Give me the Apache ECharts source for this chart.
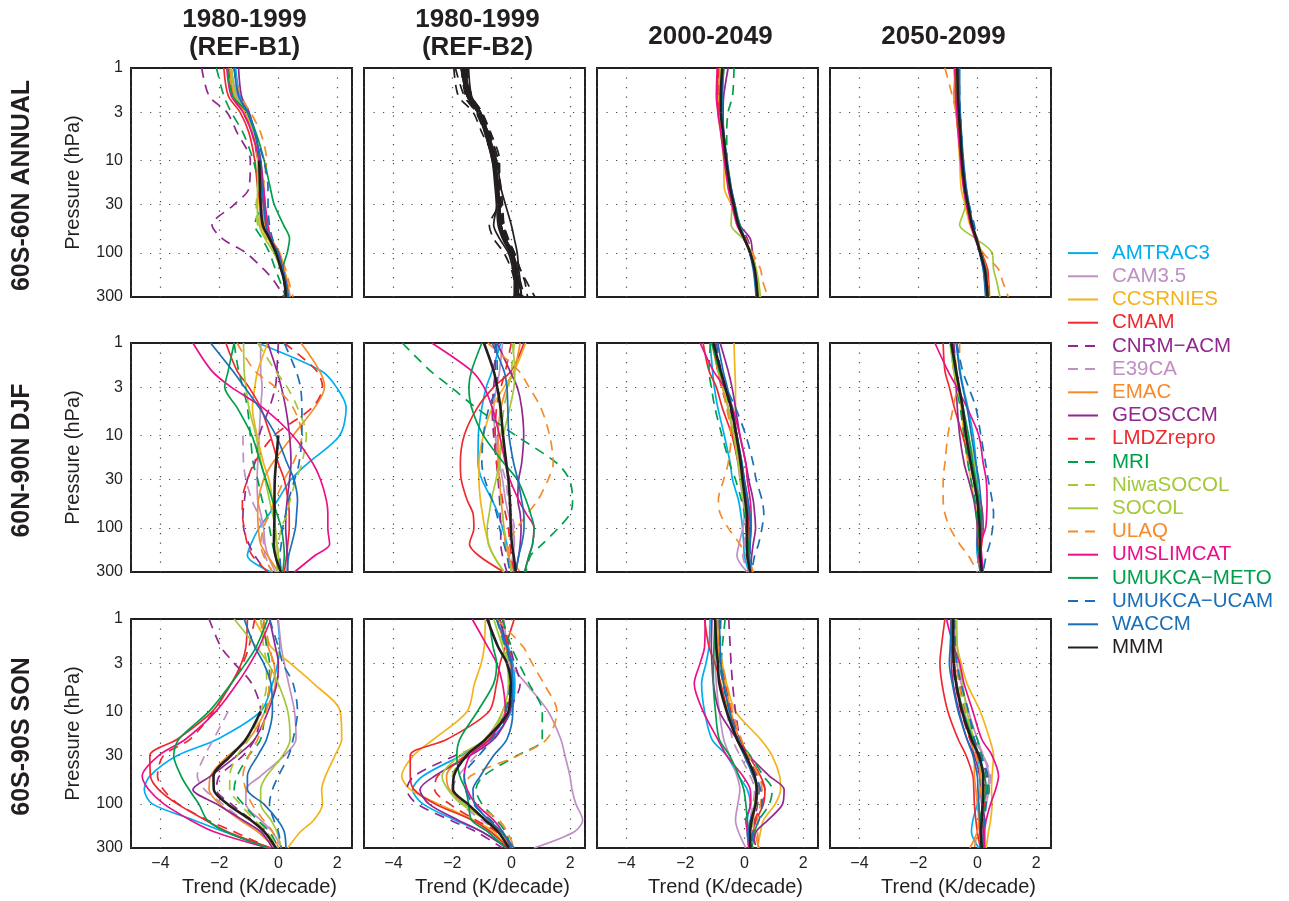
<!DOCTYPE html>
<html><head><meta charset="utf-8">
<script src="https://cdn.jsdelivr.net/npm/echarts@6/dist/echarts.min.js"></script>
<style>html,body{margin:0;padding:0;background:#fff}#c{width:1289px;height:901px}</style>
</head><body><div id="c"></div>
<script>
const n = null;
const levels = [1,2,3,5,10,20,30,50,70,100,150,200,300];
const models = ['AMTRAC3','CAM3.5','CCSRNIES','CMAM','CNRM\u2212ACM','E39CA','EMAC','GEOSCCM','LMDZrepro','MRI','NiwaSOCOL','SOCOL','ULAQ','UMSLIMCAT','UMUKCA\u2212METO','UMUKCA\u2212UCAM','WACCM','MMM'];
const colors = ['#00aeef','#c08fc4','#f2b31b','#ee2a2f','#92278f','#c08fc4','#f68b2c','#92278f','#ee2a2f','#00a04b','#a3c93a','#a3c93a','#f68b2c','#ec0f8c','#00a04b','#1b6fb8','#1b6fb8','#231f20'];
const dashed = [false,false,false,false,true,true,false,false,true,true,true,false,true,false,false,true,false,false];
const colTitles = [['1980-1999','(REF-B1)'],['1980-1999','(REF-B2)'],['2000-2049'],['2050-2099']];
const rowTitles = ['60S-60N ANNUAL','60N-90N DJF','60S-90S SON'];
const yTicks = [1,3,10,30,100,300];
const gridY = [3,10,30,100];

// Rows: model order as in `models`; columns: pressure levels
const ANN_B1 = [
[-1.45,-1.3,-1.0,-0.8,-0.6,-0.55,-0.5,-0.45,-0.3,-0.05,0.1,0.2,0.3],
[-1.6,-1.4,-1.1,-0.85,-0.65,-0.6,-0.55,-0.5,-0.3,-0.05,0.12,0.2,0.28],
[-1.7,-1.5,-1.15,-0.9,-0.7,-0.7,-0.65,-0.6,-0.35,-0.1,0.1,0.2,0.3],
[-1.85,-1.7,-1.3,-1.0,-0.8,-0.7,-0.6,-0.5,-0.3,-0.05,0.1,0.2,0.3],
[-2.6,-2.35,-1.75,-1.4,-0.95,-1.0,-1.5,-2.25,-1.9,-1.1,-0.5,-0.15,0.2],
[n,n,n,n,-0.65,-0.6,-0.55,-0.45,-0.25,-0.02,0.12,0.2,0.28],
[-1.65,-1.5,-1.15,-0.85,-0.6,-0.55,-0.5,-0.45,-0.25,0.05,0.2,0.3,0.4],
[-1.35,-1.25,-1.0,-0.8,-0.6,-0.5,-0.45,-0.4,-0.3,0.0,0.15,0.2,0.25],
[-1.7,-1.55,-1.2,-0.9,-0.7,-0.6,-0.5,-0.4,-0.3,-0.05,0.1,0.2,0.25],
[-2.1,-1.85,-1.6,-1.2,-0.85,-0.65,-0.6,-0.8,-0.55,-0.3,-0.1,0.05,0.25],
[-1.6,-1.45,-1.1,-0.85,-0.7,-0.7,-0.75,-0.7,-0.4,-0.1,0.1,0.2,0.3],
[-1.6,-1.45,-1.1,-0.85,-0.7,-0.7,-0.72,-0.65,-0.45,-0.15,0.08,0.2,0.3],
[-1.5,-1.3,-0.95,-0.6,-0.4,-0.5,-0.45,-0.35,-0.25,0.0,0.25,0.35,0.5],
[-1.75,-1.6,-1.2,-0.9,-0.65,-0.5,-0.45,-0.35,-0.25,0.0,0.15,0.25,0.32],
[-1.73,-1.55,-1.05,-0.76,-0.48,-0.27,-0.14,0.18,0.38,0.3,0.15,0.18,0.3],
[-1.5,-1.35,-1.05,-0.8,-0.5,-0.35,-0.35,-0.3,-0.2,0.0,0.15,0.25,0.35],
[-1.5,-1.35,-1.05,-0.8,-0.62,-0.55,-0.5,-0.42,-0.28,-0.02,0.15,0.25,0.35],
[n,n,n,n,-0.65,-0.62,-0.6,-0.53,-0.3,-0.08,0.09,0.2,0.26]
];
const ANN_B2 = [
[-1.6,-1.45,-1.1,-0.85,-0.6,-0.5,-0.45,-0.4,-0.25,0.0,0.1,0.15,0.1],
[-1.55,-1.4,-1.05,-0.8,-0.55,-0.45,-0.4,-0.35,-0.2,0.05,0.15,0.2,0.2],
[-1.7,-1.5,-1.15,-0.9,-0.65,-0.55,-0.5,-0.45,-0.3,-0.05,0.1,0.15,0.15],
[-1.65,-1.5,-1.15,-0.9,-0.65,-0.5,-0.5,-0.6,-0.4,-0.1,0.05,0.1,0.1],
[-1.95,-1.8,-1.3,-1.0,-0.55,-0.45,-0.45,-0.75,-0.6,-0.25,0.0,0.1,0.15],
[n,n,n,n,-0.55,-0.45,-0.4,-0.35,-0.2,0.05,0.2,0.25,0.3],
[-1.6,-1.45,-1.1,-0.85,-0.6,-0.45,-0.4,-0.35,-0.2,0.05,0.15,0.2,0.25],
[-1.45,-1.35,-1.05,-0.8,-0.55,-0.45,-0.4,-0.35,-0.25,0.0,0.1,0.15,0.2],
[-1.7,-1.55,-1.2,-0.9,-0.5,-0.35,-0.3,-0.25,-0.15,0.1,0.3,0.45,0.55],
[-1.9,-1.6,-1.2,-0.85,-0.55,-0.45,-0.4,-0.35,-0.25,0.0,0.15,0.2,0.3],
[-1.6,-1.45,-1.05,-0.75,-0.45,-0.4,-0.35,-0.3,-0.2,0.05,0.15,0.2,0.4],
[-1.6,-1.45,-1.1,-0.85,-0.6,-0.5,-0.45,-0.4,-0.25,0.0,0.1,0.15,0.25],
[-1.55,-1.35,-1.0,-0.7,-0.4,-0.4,-0.35,-0.25,-0.1,0.1,0.3,0.5,0.8],
[-1.65,-1.5,-1.15,-0.85,-0.6,-0.45,-0.4,-0.35,-0.25,0.05,0.2,0.25,0.35],
[-1.7,-1.5,-1.1,-0.8,-0.5,-0.35,-0.2,0.0,0.1,0.2,0.25,0.3,0.35],
[-1.5,-1.35,-1.0,-0.75,-0.45,-0.4,-0.35,-0.3,-0.15,0.1,0.2,0.3,0.45],
[-1.55,-1.4,-1.05,-0.8,-0.55,-0.45,-0.4,-0.35,-0.2,0.05,0.15,0.2,0.25],
[n,n,n,n,n,n,n,n,n,n,n,n,n]
];
const ANN_2000 = [
[-0.75,-0.8,-0.8,-0.72,-0.62,-0.48,-0.36,-0.2,0.0,0.2,0.35,0.4,0.45],
[-0.8,-0.82,-0.8,-0.72,-0.62,-0.5,-0.38,-0.22,-0.02,0.18,0.33,0.38,0.42],
[-0.85,-0.88,-0.9,-0.8,-0.7,-0.68,-0.45,-0.2,0.0,0.25,0.4,0.45,0.5],
[-0.9,-0.92,-0.88,-0.78,-0.66,-0.52,-0.4,-0.22,-0.02,0.2,0.35,0.4,0.45],
[-0.7,-0.75,-0.75,-0.7,-0.6,-0.48,-0.35,-0.15,0.1,0.25,0.38,0.42,0.45],
[n,n,n,n,-0.6,-0.48,-0.36,-0.2,0.0,0.2,0.35,0.4,0.45],
[-0.85,-0.85,-0.85,-0.75,-0.65,-0.52,-0.4,-0.22,0.0,0.22,0.38,0.42,0.47],
[-0.55,-0.7,-0.72,-0.7,-0.6,-0.48,-0.36,-0.15,0.2,0.28,0.38,0.42,0.45],
[-0.88,-0.9,-0.85,-0.75,-0.65,-0.52,-0.38,-0.2,0.0,0.2,0.35,0.4,0.42],
[-0.35,-0.4,-0.55,-0.6,-0.58,-0.48,-0.35,-0.2,0.0,0.2,0.35,0.4,0.45],
[-0.78,-0.8,-0.8,-0.72,-0.62,-0.5,-0.38,-0.22,0.0,0.22,0.38,0.45,0.5],
[-0.8,-0.82,-0.82,-0.75,-0.65,-0.52,-0.42,-0.45,-0.05,0.25,0.4,0.48,0.55],
[-0.75,-0.78,-0.78,-0.7,-0.6,-0.48,-0.35,-0.18,0.05,0.28,0.55,0.62,0.8],
[-0.92,-0.95,-0.9,-0.8,-0.68,-0.55,-0.42,-0.25,-0.02,0.2,0.33,0.38,0.4],
[-0.7,-0.75,-0.78,-0.72,-0.6,-0.45,-0.32,-0.15,0.02,0.2,0.35,0.4,0.42],
[-0.72,-0.78,-0.78,-0.7,-0.6,-0.45,-0.34,-0.18,0.02,0.2,0.33,0.38,0.42],
[-0.72,-0.76,-0.76,-0.7,-0.58,-0.44,-0.32,-0.18,0.02,0.18,0.3,0.35,0.4],
[-0.75,-0.8,-0.8,-0.72,-0.62,-0.48,-0.36,-0.2,0.0,0.2,0.35,0.4,0.45]
];
const ANN_2050 = [
[-0.65,-0.63,-0.6,-0.55,-0.5,-0.4,-0.3,-0.18,-0.05,0.08,0.2,0.25,0.3],
[-0.7,-0.68,-0.65,-0.6,-0.52,-0.42,-0.32,-0.2,-0.05,0.1,0.25,0.3,0.35],
[-0.72,-0.72,-0.7,-0.66,-0.6,-0.55,-0.42,-0.25,-0.05,0.12,0.3,0.38,0.42],
[-0.78,-0.75,-0.72,-0.65,-0.55,-0.45,-0.35,-0.22,-0.05,0.15,0.35,0.38,0.4],
[-0.68,-0.66,-0.62,-0.57,-0.5,-0.4,-0.3,-0.15,0.0,0.12,0.25,0.3,0.35],
[n,n,n,n,-0.5,-0.4,-0.3,-0.17,-0.03,0.12,0.27,0.32,0.37],
[-0.72,-0.8,-0.72,-0.62,-0.55,-0.44,-0.34,-0.2,-0.03,0.15,0.3,0.35,0.4],
[-0.65,-0.63,-0.6,-0.56,-0.5,-0.4,-0.3,-0.18,-0.04,0.1,0.25,0.28,0.32],
[-0.75,-0.72,-0.68,-0.62,-0.55,-0.45,-0.35,-0.2,-0.03,0.15,0.3,0.35,0.4],
[-0.68,-0.66,-0.63,-0.58,-0.5,-0.4,-0.32,-0.18,-0.05,0.1,0.25,0.3,0.35],
[-0.7,-0.68,-0.65,-0.6,-0.52,-0.42,-0.32,-0.18,-0.04,0.12,0.27,0.32,0.36],
[-0.7,-0.68,-0.65,-0.6,-0.55,-0.45,-0.4,-0.6,-0.05,0.5,0.55,0.65,0.77],
[-1.1,-0.85,-0.72,-0.65,-0.55,-0.45,-0.35,-0.18,0.0,0.2,0.72,0.85,1.05],
[-0.75,-0.73,-0.7,-0.64,-0.57,-0.47,-0.37,-0.22,-0.08,0.1,0.25,0.3,0.35],
[-0.68,-0.66,-0.63,-0.58,-0.5,-0.4,-0.3,-0.17,-0.03,0.12,0.28,0.32,0.36],
[-0.62,-0.6,-0.58,-0.54,-0.48,-0.38,-0.28,-0.1,-0.02,0.1,0.22,0.26,0.3],
[-0.6,-0.6,-0.58,-0.54,-0.47,-0.37,-0.28,-0.15,-0.02,0.08,0.2,0.24,0.28],
[-0.68,-0.66,-0.63,-0.58,-0.52,-0.42,-0.32,-0.18,-0.04,0.1,0.25,0.3,0.35]
];
const DJF_B1 = [
[-0.7,1.45,1.97,2.3,2.08,1.0,0.43,-0.02,-0.3,-0.65,-0.93,-1.05,-0.25],
[-0.6,-0.6,-0.55,-0.6,-0.65,-0.7,-0.72,-0.7,-0.6,-0.5,-0.45,-0.35,-0.1],
[-0.36,-0.7,-0.8,-0.88,-0.72,-0.5,-0.32,-0.2,-0.15,-0.12,-0.05,0.0,0.1],
[-1.78,-1.4,-1.0,-0.6,-0.27,0.0,0.2,0.33,0.37,0.37,0.32,0.28,0.2],
[0.0,-0.05,-0.1,-0.3,-0.65,-0.8,-1.05,-1.15,-1.2,-1.18,-1.0,-0.8,-0.4],
[n,n,n,n,-1.2,-1.18,-1.1,-0.9,-0.7,-0.55,-0.5,-0.45,-0.2],
[0.77,1.4,1.57,1.23,0.5,-0.2,-0.5,-0.68,-0.7,-0.68,-0.6,-0.36,0.0],
[-0.36,-0.05,0.1,0.25,0.38,0.43,0.38,0.3,0.26,0.25,0.28,0.3,0.32],
[0.2,1.3,1.5,1.15,-0.14,-0.82,-1.05,-1.22,-1.22,-1.16,-1.05,-0.88,-0.36],
[-1.5,-1.35,-1.2,-1.05,-0.95,-0.85,-0.7,-0.55,-0.4,-0.3,-0.2,-0.1,0.0],
[-0.7,-0.1,0.3,0.65,0.95,0.8,0.6,0.4,0.3,0.1,0.0,-0.05,-0.05],
[-1.18,-1.16,-1.1,-1.0,-0.76,-0.58,-0.45,-0.3,-0.2,-0.1,-0.05,0.0,0.05],
[-1.4,-0.8,-0.1,0.5,0.8,0.5,0.2,-0.1,-0.3,-0.5,-0.6,-0.5,-0.2],
[-2.9,-2.26,-1.6,-0.53,0.49,1.17,1.43,1.63,1.68,1.68,1.74,1.23,0.55],
[-1.5,-1.7,-1.82,-1.4,-0.9,-0.6,-0.42,-0.2,-0.05,0.1,0.18,0.2,0.15],
[0.2,0.6,0.75,0.8,0.8,0.7,0.55,0.35,0.25,0.15,0.1,0.05,0.1],
[-2.3,-1.55,-1.15,-0.65,-0.08,0.3,0.53,0.65,0.62,0.58,0.45,0.35,0.3],
[n,n,n,n,0.0,-0.08,-0.12,-0.13,-0.13,-0.14,-0.15,-0.1,0.09]
];
const DJF_B2 = [
[-0.36,-0.65,-0.85,-1.0,-1.12,-1.13,-1.0,-0.65,-0.45,-0.3,-0.15,-0.1,0.0],
[-0.3,-0.4,-0.5,-0.6,-0.55,-0.4,-0.3,-0.2,-0.1,0.05,0.1,0.05,0.0],
[0.49,0.1,-0.25,-0.65,-0.95,-1.1,-1.1,-1.05,-0.98,-0.9,-0.76,-0.6,-0.25],
[0.43,0.0,-0.6,-1.15,-1.6,-1.73,-1.7,-1.5,-1.3,-1.27,-1.42,-1.1,-0.25],
[-0.55,-0.55,-0.6,-0.65,-0.6,-0.5,-0.45,-0.4,-0.38,-0.36,-0.36,-0.3,-0.15],
[n,n,n,n,-0.5,-0.35,-0.2,-0.1,0.0,0.1,0.1,0.05,0.0],
[0.3,0.1,-0.15,-0.35,-0.45,-0.45,-0.4,-0.35,-0.3,-0.25,-0.2,-0.1,0.1],
[-0.48,-0.05,0.2,0.35,0.42,0.35,0.25,0.22,0.3,0.33,0.3,0.25,0.15],
[0.0,-0.2,-0.35,-0.5,-0.55,-0.5,-0.4,-0.3,-0.2,-0.1,-0.05,0.0,0.1],
[-3.7,-2.75,-2.05,-1.2,0.15,1.55,1.97,2.08,2.0,1.6,1.05,0.65,0.5],
[0.1,0.0,-0.1,-0.25,-0.35,-0.4,-0.4,-0.35,-0.3,-0.25,-0.15,-0.1,0.0],
[0.03,0.12,0.09,-0.05,-0.27,-0.42,-0.52,-0.68,-0.75,-0.82,-0.78,-0.6,-0.25],
[-0.8,0.25,0.6,1.0,1.3,1.42,1.25,0.9,0.55,0.2,-0.1,-0.05,0.3],
[-2.7,-1.35,-0.93,-0.65,-0.4,-0.2,-0.05,0.25,0.5,0.77,0.72,0.6,0.45],
[-1.0,-1.35,-1.44,-1.35,-0.95,-0.25,0.2,0.5,0.65,0.77,0.72,0.6,0.45],
[-0.5,-0.48,-0.5,-0.76,-0.95,-1.0,-0.9,-0.65,-0.5,-0.4,-0.25,-0.15,-0.05],
[-0.65,-0.25,-0.15,-0.12,-0.08,0.08,0.22,0.35,0.42,0.43,0.35,0.25,0.15],
[-0.93,-0.6,-0.48,-0.37,-0.28,-0.17,-0.1,-0.05,-0.03,-0.02,0.02,0.08,0.15]
];
const DJF_2000 = [
[-1.16,-1.08,-1.02,-0.9,-0.68,-0.48,-0.4,-0.2,-0.12,-0.06,-0.02,0.0,0.15],
[-1.0,-0.85,-0.72,-0.55,-0.38,-0.22,-0.15,-0.05,0.0,-0.05,-0.18,-0.25,0.1],
[-0.35,-0.32,-0.3,-0.3,-0.3,-0.2,-0.12,-0.02,0.05,0.08,0.05,0.1,0.2],
[-1.4,-1.2,-0.95,-0.75,-0.42,-0.2,-0.05,0.08,0.12,0.15,0.15,0.15,0.2],
[-0.95,-0.8,-0.68,-0.5,-0.3,-0.12,-0.05,0.05,0.12,0.18,0.18,0.2,0.25],
[n,n,n,n,-0.35,-0.2,-0.1,0.0,0.05,0.05,0.0,-0.05,0.15],
[-1.1,-0.9,-0.75,-0.55,-0.35,-0.18,-0.1,0.0,0.05,0.1,0.12,0.15,0.3],
[-0.82,-0.55,-0.42,-0.3,-0.15,0.05,0.15,0.3,0.35,0.38,0.3,0.25,0.2],
[-1.05,-0.9,-0.78,-0.58,-0.38,-0.18,-0.08,0.05,0.1,0.12,0.1,0.12,0.2],
[-1.15,-1.2,-1.12,-1.0,-0.76,-0.5,-0.3,-0.1,0.0,0.05,0.1,0.15,0.2],
[-1.0,-0.85,-0.7,-0.55,-0.35,-0.2,-0.12,-0.02,0.05,0.08,0.1,0.12,0.2],
[-1.02,-0.88,-0.72,-0.55,-0.36,-0.2,-0.12,0.0,0.05,0.1,0.12,0.15,0.25],
[-1.05,-0.9,-0.75,-0.6,-0.45,-0.55,-0.7,-0.88,-0.82,-0.55,-0.15,0.05,0.3],
[-1.5,-1.05,-0.68,-0.4,-0.15,0.05,0.1,0.2,0.23,0.23,0.18,0.15,0.2],
[-1.1,-0.85,-0.65,-0.45,-0.25,-0.08,0.0,0.12,0.18,0.2,0.15,0.12,0.2],
[-1.0,-0.8,-0.62,-0.3,0.05,0.3,0.4,0.6,0.66,0.6,0.48,0.35,0.25],
[-0.9,-0.72,-0.58,-0.42,-0.25,-0.08,0.0,0.12,0.18,0.22,0.2,0.18,0.22],
[-1.05,-0.8,-0.65,-0.45,-0.27,-0.12,-0.06,0.03,0.08,0.09,0.09,0.1,0.2]
];
const DJF_2050 = [
[-0.7,-0.58,-0.48,-0.32,-0.14,-0.04,0.0,0.02,0.02,0.0,-0.02,0.0,0.1],
[-0.85,-0.72,-0.62,-0.5,-0.35,-0.2,-0.1,0.0,0.03,0.05,0.05,0.05,0.1],
[-0.8,-0.7,-0.65,-0.55,-0.45,-0.32,-0.22,-0.1,-0.03,0.0,0.02,0.05,0.15],
[-1.16,-1.1,-0.95,-0.78,-0.5,-0.25,-0.1,0.1,0.18,0.2,0.15,0.1,0.15],
[-0.8,-0.72,-0.62,-0.5,-0.35,-0.2,-0.12,0.0,0.05,0.1,0.1,0.08,0.12],
[n,n,n,n,-0.4,-0.25,-0.15,-0.02,0.05,0.08,0.05,0.05,0.15],
[-0.85,-0.75,-0.65,-0.52,-0.38,-0.22,-0.12,0.0,0.05,0.08,0.05,0.05,0.1],
[-0.82,-0.78,-0.72,-0.68,-0.6,-0.45,-0.3,-0.12,-0.05,0.0,0.0,0.05,0.1],
[-0.9,-0.8,-0.7,-0.55,-0.38,-0.2,-0.1,0.05,0.1,0.12,0.1,0.1,0.15],
[-0.85,-0.78,-0.7,-0.58,-0.45,-0.32,-0.22,-0.08,-0.02,0.02,0.05,0.08,0.12],
[-0.88,-0.75,-0.65,-0.52,-0.35,-0.2,-0.1,0.0,0.05,0.08,0.08,0.08,0.15],
[-0.93,-0.8,-0.68,-0.52,-0.3,-0.1,-0.05,0.05,0.1,0.12,0.1,0.1,0.2],
[-0.6,-0.62,-0.68,-0.82,-1.0,-1.1,-1.16,-1.16,-1.1,-0.93,-0.6,-0.3,0.0],
[-1.44,-1.0,-0.7,-0.35,0.05,0.2,0.3,0.33,0.32,0.28,0.12,0.15,0.2],
[-0.9,-0.75,-0.62,-0.48,-0.3,-0.15,-0.06,0.05,0.1,0.12,0.1,0.1,0.15],
[-0.7,-0.5,-0.3,-0.05,0.12,0.28,0.37,0.5,0.55,0.52,0.42,0.3,0.2],
[-0.72,-0.6,-0.5,-0.35,-0.2,-0.05,0.05,0.12,0.15,0.15,0.1,0.1,0.15],
[-0.88,-0.72,-0.62,-0.5,-0.38,-0.22,-0.12,0.0,0.04,0.08,0.09,0.1,0.15]
];
const SON_B1 = [
[-0.02,0.05,-0.02,-0.2,-0.6,-2.07,-3.43,-4.36,-4.55,-4.28,-2.86,-1.84,-0.25],
[0.0,0.1,0.2,0.35,0.55,0.6,0.2,-0.6,-1.1,-1.1,-0.6,-0.2,0.1],
[-0.82,-0.25,0.4,1.2,2.1,2.15,1.92,1.6,1.47,1.5,1.2,0.75,0.32],
[-1.05,-1.1,-1.25,-1.6,-2.24,-3.43,-4.36,-4.34,-4.06,-3.43,-2.47,-1.73,-0.25],
[-2.35,-1.95,-1.5,-0.9,-0.6,-0.8,-1.2,-2.0,-2.1,-1.6,-0.9,-0.4,-0.1],
[n,n,n,n,-1.7,-2.2,-2.5,-2.75,-2.5,-1.9,-1.2,-0.6,-0.1],
[-0.6,-0.35,-0.15,-0.1,-0.45,-1.0,-1.7,-2.3,-2.35,-2.0,-1.3,-0.7,-0.1],
[-0.3,-0.1,0.0,-0.05,-0.35,-0.8,-1.4,-2.3,-2.9,-2.1,-1.2,-0.6,-0.2],
[-0.8,-1.0,-1.2,-1.6,-2.2,-3.0,-3.9,-4.1,-3.9,-3.4,-2.4,-1.5,-0.3],
[-0.5,-0.4,-0.3,-0.3,-0.45,-0.6,-1.0,-1.4,-1.5,-1.2,-0.7,-0.3,0.0],
[-0.6,-0.5,-0.4,-0.4,-0.6,-1.0,-1.4,-1.65,-1.65,-1.3,-0.8,-0.4,0.0],
[-1.5,-0.75,-0.35,0.0,0.32,0.4,0.15,-0.4,-0.6,-0.6,-0.25,-0.05,0.1],
[-0.5,-0.3,-0.2,-0.3,-0.4,-0.7,-1.0,-1.2,-1.1,-0.9,-0.5,-0.2,0.0],
[-0.25,-0.65,-0.95,-1.4,-2.12,-3.15,-4.06,-4.62,-4.4,-3.89,-2.98,-2.18,-0.35],
[-0.36,-0.75,-1.1,-1.6,-2.35,-3.38,-3.55,-3.3,-3.03,-2.7,-2.41,-1.78,-0.35],
[-0.3,0.0,0.15,0.5,0.65,0.5,0.35,0.0,-0.2,-0.3,-0.15,0.0,0.1],
[-1.16,-0.8,-0.5,-0.25,-0.2,-0.4,-0.7,-1.05,-1.05,-0.5,-0.02,0.2,0.26],
[n,n,n,n,-0.6,-1.1,-1.61,-2.2,-2.19,-1.73,-0.93,-0.48,-0.08]
];
const SON_B2 = [
[-0.4,-0.1,0.05,0.12,0.0,-0.7,-1.7,-3.0,-3.35,-3.0,-1.9,-1.0,-0.1],
[-0.25,-0.15,-0.05,0.5,1.25,1.68,1.82,1.99,2.06,2.19,2.42,2.14,0.77],
[-0.88,-0.92,-1.02,-1.25,-1.5,-2.64,-3.32,-3.72,-3.43,-2.47,-1.27,-0.6,-0.14],
[0.1,-0.2,-0.38,-0.5,-0.76,-2.18,-3.43,-3.43,-3.3,-2.58,-1.33,-0.7,-0.1],
[-0.4,-0.05,0.1,0.3,-0.1,-0.6,-1.9,-3.3,-3.55,-3.2,-2.07,-1.2,-0.3],
[n,n,n,n,-0.3,-0.7,-1.2,-1.8,-2.0,-1.7,-1.0,-0.45,0.0],
[-0.5,-0.2,-0.05,0.0,-0.2,-0.8,-1.6,-2.2,-2.1,-1.6,-0.8,-0.3,0.05],
[-0.4,-0.15,0.0,0.05,-0.05,-0.6,-1.4,-2.6,-3.1,-2.8,-1.8,-1.0,-0.15],
[-0.3,-0.1,0.0,0.0,-0.2,-0.7,-1.5,-2.5,-2.6,-2.1,-1.2,-0.5,-0.05],
[-0.3,0.0,0.25,0.6,1.05,1.05,0.2,-0.95,-1.2,-1.0,-0.5,-0.2,0.0],
[-0.5,-0.25,-0.1,-0.05,-0.25,-0.8,-1.5,-2.0,-2.0,-1.6,-0.9,-0.4,0.0],
[-0.6,-0.3,-0.15,-0.1,-0.3,-0.9,-1.75,-2.35,-2.15,-1.7,-0.8,-0.35,-0.05],
[-0.5,0.4,0.7,1.1,1.55,1.2,0.23,-1.39,-1.55,-1.2,-0.42,-0.14,0.1],
[-1.33,-0.8,-0.5,-0.3,-0.2,-0.75,-1.4,-1.6,-1.5,-1.2,-0.6,-0.3,0.0],
[-0.76,-0.62,-0.5,-0.6,-1.15,-1.75,-1.85,-1.75,-1.55,-1.45,-1.35,-0.8,-0.2],
[-0.5,-0.2,-0.05,-0.05,-0.2,-0.65,-1.1,-1.6,-1.55,-1.3,-0.7,-0.3,0.0],
[-0.5,-0.15,0.0,0.05,0.05,-0.15,-0.6,-1.05,-1.3,-1.25,-0.75,-0.35,0.1],
[-0.82,-0.45,-0.15,-0.02,-0.1,-0.88,-1.52,-1.95,-1.98,-1.48,-0.88,-0.45,-0.08]
];
const SON_2000 = [
[-1.16,-1.2,-1.3,-1.45,-1.35,-1.1,-0.6,-0.2,0.1,0.2,0.1,0.1,0.15],
[-1.0,-1.0,-0.98,-0.95,-0.85,-0.7,-0.5,-0.25,-0.15,-0.22,-0.3,-0.2,0.05],
[-0.9,-0.85,-0.75,-0.6,-0.3,0.55,0.94,1.2,1.23,1.05,0.65,0.55,0.45],
[-1.35,-1.2,-1.0,-0.8,-0.55,-0.15,0.15,0.55,0.7,0.65,0.4,0.3,0.2],
[-0.53,-0.48,-0.45,-0.4,-0.3,-0.15,0.0,0.3,0.5,0.45,0.35,0.3,0.4],
[n,n,n,n,-0.6,-0.4,-0.15,0.2,0.35,0.3,0.2,0.2,0.25],
[-0.95,-0.9,-0.8,-0.65,-0.45,-0.2,0.05,0.35,0.45,0.4,0.3,0.35,0.5],
[-1.1,-1.12,-1.1,-1.05,-0.85,-0.25,0.15,0.85,1.35,1.3,0.8,0.4,0.25],
[-0.9,-0.85,-0.78,-0.65,-0.45,-0.15,0.1,0.45,0.7,0.6,0.35,0.3,0.3],
[-0.65,-0.75,-0.78,-0.68,-0.5,-0.2,0.2,0.65,0.95,0.85,0.5,0.35,0.25],
[-0.95,-0.9,-0.82,-0.7,-0.5,-0.2,0.05,0.35,0.45,0.4,0.3,0.25,0.25],
[-1.0,-0.95,-0.85,-0.72,-0.52,-0.25,0.0,0.3,0.4,0.35,0.25,0.2,0.2],
[-0.9,-0.85,-0.75,-0.6,-0.4,-0.1,0.15,0.5,0.6,0.55,0.45,0.45,0.5],
[-1.33,-1.35,-1.5,-1.7,-1.4,-0.9,-0.6,-0.05,0.2,0.22,0.05,0.1,0.15],
[-1.0,-1.03,-1.05,-1.05,-0.98,-0.85,-0.5,-0.18,-0.02,0.05,0.1,0.15,0.2],
[-0.8,-0.82,-0.82,-0.72,-0.5,-0.2,0.05,0.4,0.55,0.6,0.5,0.3,0.25],
[-0.85,-0.82,-0.8,-0.7,-0.5,-0.25,0.0,0.3,0.45,0.4,0.2,0.15,0.2],
[-0.99,-0.95,-0.9,-0.85,-0.6,-0.25,0.05,0.35,0.42,0.38,0.25,0.2,0.2]
];
const SON_2050 = [
[-0.75,-0.78,-0.78,-0.7,-0.5,-0.2,0.0,0.1,0.1,0.0,-0.15,-0.2,0.05],
[-0.78,-0.75,-0.7,-0.55,-0.3,0.0,0.2,0.4,0.35,0.25,0.2,0.15,0.15],
[-0.75,-0.68,-0.55,-0.35,0.1,0.42,0.55,0.5,0.48,0.5,0.45,0.38,0.3],
[-1.1,-1.22,-1.27,-1.2,-1.0,-0.65,-0.38,-0.15,-0.12,-0.1,-0.05,0.0,0.1],
[-0.72,-0.72,-0.7,-0.6,-0.4,-0.1,0.1,0.3,0.3,0.25,0.2,0.15,0.15],
[n,n,n,n,-0.45,-0.1,0.2,0.45,0.4,0.3,0.2,0.15,0.15],
[-0.85,-0.82,-0.78,-0.7,-0.5,-0.25,-0.1,-0.1,-0.05,0.0,0.05,0.0,-0.25],
[-0.85,-0.88,-0.88,-0.82,-0.62,-0.35,-0.1,0.08,0.12,0.15,0.25,0.2,0.2],
[-0.9,-0.88,-0.85,-0.75,-0.55,-0.25,0.0,0.2,0.25,0.25,0.2,0.15,0.2],
[-0.8,-0.75,-0.7,-0.55,-0.35,0.0,0.15,0.35,0.4,0.3,0.2,0.2,0.2],
[-0.72,-0.7,-0.65,-0.55,-0.38,-0.12,0.05,0.2,0.25,0.2,0.15,0.12,0.15],
[-0.7,-0.68,-0.62,-0.5,-0.35,-0.12,0.05,0.12,0.15,0.15,0.15,0.12,0.15],
[-0.8,-0.78,-0.72,-0.62,-0.45,-0.2,-0.05,0.1,0.1,0.05,0.05,0.0,-0.1],
[-1.05,-0.8,-0.6,-0.45,-0.15,0.15,0.5,0.72,0.62,0.45,0.3,0.25,0.25],
[-0.82,-0.82,-0.8,-0.7,-0.48,-0.15,0.05,0.25,0.3,0.2,0.1,0.1,0.15],
[-0.8,-0.75,-0.7,-0.55,-0.3,-0.1,0.1,0.35,0.35,0.3,0.25,0.2,0.2],
[-0.88,-0.92,-0.95,-0.85,-0.65,-0.35,-0.15,0.0,0.02,0.05,0.08,0.1,0.12],
[-0.82,-0.82,-0.8,-0.72,-0.52,-0.2,0.05,0.2,0.2,0.18,0.15,0.12,0.15]
];

const panels = [[ANN_B1, ANN_B2, ANN_2000, ANN_2050],[DJF_B1, DJF_B2, DJF_2000, DJF_2050],[SON_B1, SON_B2, SON_2000, SON_2050]];
const colLeft = [131, 364, 597, 830];
const rowTop = [68, 343, 619];
const PW = 221, PH = 229;
const FONT = '"Liberation Sans", Arial, Helvetica, sans-serif';
const TXT = '#231f20';
const dotStyle = {color:'#4a4a4a', width:1.2, type:[1.2, 8.3]};

const grids = [], xAxes = [], yAxes = [], series = [], graphics = [];
for (let r = 0; r < 3; r++) {
  for (let c = 0; c < 4; c++) {
    const k = r*4 + c;
    grids.push({left: colLeft[c], top: rowTop[r], width: PW, height: PH, show: true, borderColor: TXT, borderWidth: 2, backgroundColor: 'rgba(0,0,0,0)'});
    xAxes.push({type:'value', gridIndex:k, min:-5, max:2.5, splitNumber:4,
      axisLine:{show:false}, axisTick:{show:false},
      axisLabel:{show: r===2, showMinLabel:false, showMaxLabel:false, fontSize:16, color:TXT, margin:8, fontFamily:FONT,
        formatter: v => (v < 0 ? '\u2212' + Math.abs(v) : String(v))},
      splitLine:{show:true, lineStyle: dotStyle},
      name: r===2 ? 'Trend (K/decade)' : '', nameLocation:'middle', nameGap:29,
      nameTextStyle:{fontSize:20, color:TXT, fontFamily:FONT, padding:[0,0,0,36]}});
    yAxes.push({type:'log', logBase:10, gridIndex:k, min:1, max:300, inverse:true,
      axisLine:{show:false}, axisTick:{show:false, customValues: yTicks}, splitLine:{show:false},
      axisLabel:{show: c===0, customValues: yTicks, fontSize:16, color:TXT, margin:8, fontFamily:FONT,
        formatter: v => String(Math.round(v))},
      name: c===0 ? 'Pressure (hPa)' : '', nameLocation:'middle', nameGap:48, nameRotate:90,
      nameTextStyle:{fontSize:20, color:TXT, fontFamily:FONT}});
    series.push({type:'line', name:'_grid'+k, xAxisIndex:k, yAxisIndex:k, data:[], silent:true, z:1,
      markLine:{silent:true, symbol:['none','none'], animation:false, label:{show:false}, lineStyle: dotStyle,
        data: gridY.map(p => ({yAxis:p}))}});
    const tbl = panels[r][c];
    tbl.forEach((vals, m) => {
      const pts = [];
      vals.forEach((v, i) => { if (v !== null) pts.push([v, levels[i]]); });
      if (!pts.length) return;
      const col = (r===0 && c===1) ? TXT : colors[m];
      const isM = m === models.length - 1;
      series.push({type:'line', name: models[m], xAxisIndex:k, yAxisIndex:k, data: pts,
        symbol:'none', showSymbol:false, smooth:0.3, silent:true, z: isM ? 4 : 2,
        lineStyle:{color: col, width: isM ? 2.6 : 1.7, type: dashed[m] ? [10,7] : 'solid'},
        itemStyle:{color: col}, emphasis:{disabled:true}});
    });
  }
}

const colCenter = colLeft.map(x => x + PW/2);
const CFONT = 'bold 26px ' + FONT;
const RFONT = 'bold 25px ' + FONT;
colTitles.forEach((t, c) => {
  if (t.length === 2) {
    graphics.push({type:'text', x: colCenter[c] + 3, y: 20, style:{text:t[0], font:CFONT, fill:TXT, align:'center', verticalAlign:'middle'}});
    graphics.push({type:'text', x: colCenter[c] + 3, y: 48, style:{text:t[1], font:CFONT, fill:TXT, align:'center', verticalAlign:'middle'}});
  } else {
    graphics.push({type:'text', x: colCenter[c] + 3, y: 37, style:{text:t[0], font:CFONT, fill:TXT, align:'center', verticalAlign:'middle'}});
  }
});
rowTitles.forEach((t, r) => {
  graphics.push({type:'text', x: 22, y: rowTop[r] + PH/2 + 3, rotation: Math.PI/2,
    style:{text:t, font:RFONT, fill:TXT, align:'center', verticalAlign:'middle'}});
});

const chart = echarts.init(document.getElementById('c'), null, {renderer:'canvas'});
chart.setOption({
  animation:false,
  backgroundColor:'#fff',
  textStyle:{fontFamily:FONT},
  grid: grids, xAxis: xAxes, yAxis: yAxes, series: series,
  graphic: graphics,
  legend:{orient:'vertical', left:1062, top:237, itemWidth:30, itemHeight:14, itemGap:1, selectedMode:false,
    itemStyle:{opacity:0},
    textStyle:{fontSize:20.5, lineHeight:22.2, fontFamily:FONT, padding:[0,0,0,9]},
    data: models.map((m, i) => ({name:m, textStyle:{color:colors[i]}}))}
});
</script>
</body></html>
